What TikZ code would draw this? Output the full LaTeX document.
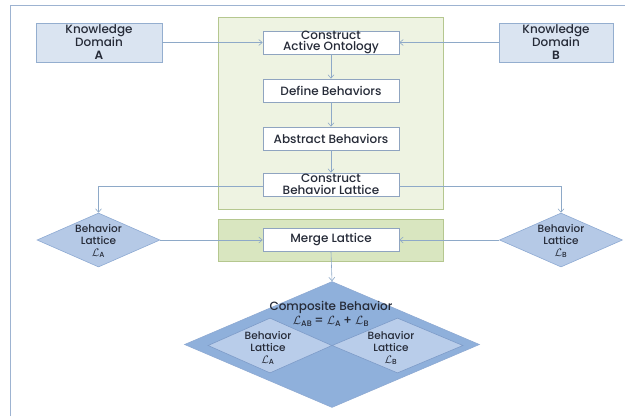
\documentclass[tikz,border=0pt]{standalone}
\usepackage{fontspec}
\setmainfont{Poppins}[UprightFont=* Medium, BoldFont=* SemiBold]
\usetikzlibrary{shapes.geometric,arrows.meta}
\definecolor{frameC}{HTML}{9DB3D1}
\definecolor{kdFill}{HTML}{DAE4F1}
\definecolor{kdDraw}{HTML}{94AECF}
\definecolor{dFill}{HTML}{B5C9E6}
\definecolor{dDraw}{HTML}{8EAAD3}
\definecolor{bigFill}{HTML}{8FB0DB}
\definecolor{inFill}{HTML}{B9CDEA}
\definecolor{inDraw}{HTML}{7D9BC8}
\definecolor{gOne}{HTML}{EEF3E2}
\definecolor{gTwo}{HTML}{D9E6C0}
\definecolor{gDraw}{HTML}{B5C78F}
\definecolor{boxDraw}{HTML}{8FA4C0}
\definecolor{arr}{HTML}{8EA9C8}
\definecolor{txt}{HTML}{262B38}
\newcommand{\Lsym}[1]{$\mathcal{L}_{\mathrm{#1}}$}
\tikzset{
  x=1pt, y=-1pt,
  every node/.style={text=txt, font=\fontsize{12}{13}\selectfont},
  panel/.style={draw=gDraw, line width=0.6pt},
  stepbox/.style={draw=boxDraw, fill=white, minimum width=136pt, minimum height=23pt, inner sep=0pt, align=center, line width=0.6pt},
  kdbox/.style={draw=kdDraw, fill=kdFill, minimum height=39pt, inner sep=0pt, align=center, line width=0.6pt},
  latd/.style={shape=diamond, draw=dDraw, fill=dFill, minimum width=123pt, minimum height=54pt, inner sep=0pt, line width=0.6pt},
  innd/.style={shape=diamond, draw=inDraw, fill=inFill, minimum height=55pt, inner sep=0pt, line width=0.6pt},
  dtext/.style={align=center, font=\fontsize{10.5}{12}\selectfont},
  conn/.style={draw=arr, line width=0.6pt, -{Straight Barb[length=3.5pt,width=6pt]}},
}
\begin{document}
\begin{tikzpicture}
\useasboundingbox (0,0) rectangle (633,416);
% frame
\draw[frameC, line width=0.9pt] (10,416) -- (10,5) -- (625,5);
% panels
\path[panel, fill=gOne] (218,17) rectangle (443,209);
\path[panel, fill=gTwo] (218,219) rectangle (443,261);
% boxes
\node[stepbox, font=\fontsize{12}{11.5}\selectfont] (cao) at (331,42.5) {Construct\\Active Ontology};
\node[stepbox] (def) at (331,90.5) {Define Behaviors};
\node[stepbox] (abs) at (331,138.5) {Abstract Behaviors};
\node[stepbox, font=\fontsize{12}{11.5}\selectfont] (cbl) at (331,184.5) {Construct\\Behavior Lattice};
\node[stepbox] (mrg) at (331,240) {Merge Lattice};
\node[kdbox, minimum width=126pt] (kda) at (99,42.5) {Knowledge\\Domain\\\textbf{A}};
\node[kdbox, minimum width=114pt] (kdb) at (556,42.5) {Knowledge\\Domain\\\textbf{B}};
% lattice diamonds
\node[latd] (la) at (98.5,240) {};
\node[dtext] at (98.5,241) {Behavior\\Lattice\\\Lsym{A}};
\node[latd] (lb) at (561,240) {};
\node[dtext] at (561,241) {Behavior\\Lattice\\\Lsym{B}};
% composite
\node[shape=diamond, draw=dDraw, fill=bigFill, minimum width=295pt, minimum height=126pt, inner sep=0pt, line width=0.6pt] (big) at (332,344.5) {};
\node[innd, minimum width=124pt] (ia) at (270,345.5) {};
\node[innd, minimum width=131pt] (ib) at (397.5,345.5) {};
\node[align=center, font=\fontsize{12}{13.5}\selectfont] (ct) at (331,314) {Composite Behavior\\\Lsym{AB}\,=\;\Lsym{A}\,+\;\Lsym{B}};
\node[dtext] at (268,348) {Behavior\\Lattice\\\Lsym{A}};
\node[dtext] at (391,348) {Behavior\\Lattice\\\Lsym{B}};
% connectors
\draw[conn] (kda.east) -- (cao.west);
\draw[conn] (kdb.west) -- (cao.east);
\draw[conn] (cao) -- (def);
\draw[conn] (def) -- (abs);
\draw[conn] (abs) -- (cbl);
\draw[conn] ([yshift=-2pt]cbl.west) -| (la.north);
\draw[conn] ([yshift=-2pt]cbl.east) -| (lb.north);
\draw[conn] (la.east) -- (mrg.west);
\draw[conn] (lb.west) -- (mrg.east);
\draw[conn] (mrg.south) -- (big.north);
\end{tikzpicture}
\end{document}
